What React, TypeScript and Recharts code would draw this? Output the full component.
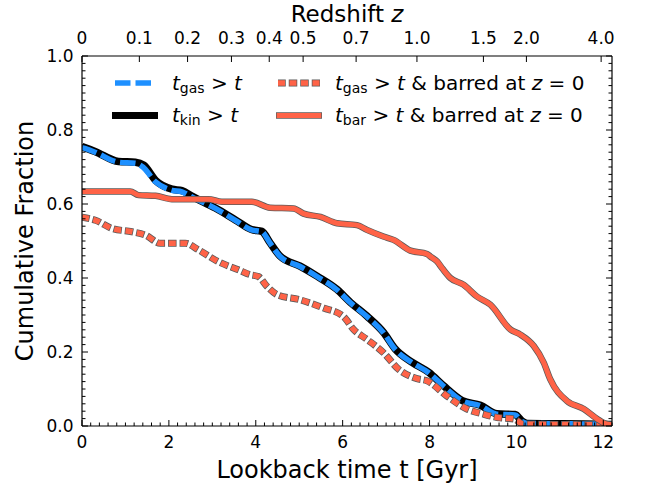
import React from "react";
import { LineChart, Line, XAxis, YAxis, Legend } from "recharts";

// lookback time [Gyr] and cumulative fraction
const gasTime = [0, 0.3, 0.84, 1.23, 1.4, 1.69, 2.07, 2.3, 2.53, 3.07, 3.53, 3.9, 4.14, 4.33, 4.56, 5.02, 5.41, 5.87, 6.18, 6.56, 6.94, 7.21, 7.6, 7.98, 8.32, 8.75, 9.17, 9.55, 9.97, 10.13, 10.25, 11.9, 12.2];
const gasFrac = [0.753, 0.74, 0.713, 0.71, 0.7, 0.66, 0.637, 0.633, 0.619, 0.588, 0.556, 0.53, 0.525, 0.494, 0.458, 0.431, 0.404, 0.368, 0.333, 0.296, 0.252, 0.207, 0.171, 0.144, 0.108, 0.068, 0.055, 0.032, 0.03, 0.012, 0.007, 0.005, 0.004];

const kinTime = [0, 0.3, 0.84, 1.23, 1.42, 1.7, 2.07, 2.3, 2.55, 3.07, 3.53, 3.9, 4.14, 4.33, 4.56, 5.02, 5.41, 5.87, 6.18, 6.56, 6.94, 7.21, 7.6, 7.98, 8.32, 8.75, 9.17, 9.55, 9.97, 10.13, 10.25, 11.9, 12.2];
const kinFrac = [0.755, 0.742, 0.715, 0.713, 0.705, 0.663, 0.64, 0.636, 0.62, 0.589, 0.557, 0.531, 0.526, 0.495, 0.459, 0.432, 0.405, 0.369, 0.334, 0.297, 0.253, 0.208, 0.172, 0.145, 0.109, 0.069, 0.056, 0.033, 0.031, 0.013, 0.007, 0.005, 0.004];

const barGasTime = [0, 0.31, 0.69, 1.15, 1.46, 1.8, 2.38, 2.68, 3.14, 3.6, 3.87, 4.06, 4.26, 4.49, 5.02, 5.56, 6.02, 6.25, 6.56, 6.94, 7.29, 7.71, 7.94, 8.4, 8.86, 9.24, 9.55, 9.94, 10.16, 11.9, 12.2];
const barGasFrac = [0.564, 0.556, 0.534, 0.525, 0.516, 0.494, 0.494, 0.476, 0.444, 0.422, 0.409, 0.404, 0.377, 0.355, 0.341, 0.319, 0.296, 0.261, 0.234, 0.198, 0.153, 0.128, 0.122, 0.081, 0.046, 0.032, 0.023, 0.019, 0.005, 0.003, 0.002];

const barTime = [0, 1.11, 1.3, 1.69, 2.07, 2.91, 3.22, 3.91, 4.33, 4.87, 5.1, 5.49, 5.87, 6.33, 6.56, 6.94, 7.17, 7.56, 7.94, 8.02, 8.17, 8.3, 8.48, 8.78, 9.09, 9.4, 9.86, 10.09, 10.4, 10.63, 10.78, 11.16, 11.55, 11.86, 12.01, 12.2];
const barFrac = [0.634, 0.634, 0.624, 0.622, 0.613, 0.613, 0.606, 0.606, 0.59, 0.588, 0.574, 0.565, 0.548, 0.543, 0.53, 0.512, 0.503, 0.474, 0.465, 0.458, 0.445, 0.425, 0.4, 0.382, 0.35, 0.328, 0.261, 0.247, 0.216, 0.171, 0.126, 0.068, 0.046, 0.019, 0.008, 0.003];

// top axis: redshift labels at their lookback times
const zTickTimes = [0, 1.32, 2.43, 3.44, 4.31, 5.09, 6.31, 7.71, 9.24, 10.23, 11.95];
const zTickLabels = ["0", "0.1", "0.2", "0.3", "0.4", "0.5", "0.7", "1.0", "1.5", "2.0", "4.0"];

const tMajor = [0, 2, 4, 6, 8, 10, 12];
const fMajor = [0, 0.2, 0.4, 0.6, 0.8, 1.0];

const tTicks: number[] = [];
for (let i = 0; i <= 61; i++) tTicks.push(Math.round(i * 2) / 10);
const fTicks: number[] = [];
for (let i = 0; i <= 50; i++) fTicks.push(Math.round(i * 2) / 100);

const zip = (xs: number[], ys: number[]) => xs.map((t, i) => ({ t, f: ys[i] }));
const gasData = zip(gasTime, gasFrac);
const kinData = zip(kinTime, kinFrac);
const barGasData = zip(barGasTime, barGasFrac);
const barData = zip(barTime, barFrac);

const FONT = "DejaVu Sans";
const TICK_FS = 17;
const BLUE = "#1E90FF";
const RED = "#FF6347";
const EDGE = "#5a5a5a";
const MAJOR = 6;
const MINOR = 3.5;

const isMajorT = (v: number) => tMajor.some((m) => Math.abs(m - v) < 1e-6);
const isMajorF = (v: number) => fMajor.some((m) => Math.abs(m - v) < 1e-6);

const BottomTick = (p: any) => {
  const v = p.payload.value;
  const major = isMajorT(v);
  return (
    <g>
      <line x1={p.x} x2={p.x} y1={p.y} y2={p.y - (major ? MAJOR : MINOR)} stroke="#000" strokeWidth={1} />
      {major && (
        <text x={p.x} y={p.y + 22} textAnchor="middle" fontSize={TICK_FS} fontFamily={FONT} fill="#000">
          {String(v)}
        </text>
      )}
    </g>
  );
};

const TopTick = (p: any) => {
  const idx = zTickTimes.findIndex((z) => Math.abs(z - p.payload.value) < 1e-6);
  return (
    <g>
      <line x1={p.x} x2={p.x} y1={p.y} y2={p.y + MAJOR} stroke="#000" strokeWidth={1} />
      <text x={p.x} y={p.y - 12} textAnchor="middle" fontSize={TICK_FS} fontFamily={FONT} fill="#000">
        {zTickLabels[idx]}
      </text>
    </g>
  );
};

const LeftTick = (p: any) => {
  const v = p.payload.value;
  const major = isMajorF(v);
  return (
    <g>
      <line x1={p.x} x2={p.x + (major ? MAJOR : MINOR)} y1={p.y} y2={p.y} stroke="#000" strokeWidth={1} />
      {major && (
        <text x={p.x - 8.5} y={p.y + 6} textAnchor="end" fontSize={TICK_FS} fontFamily={FONT} fill="#000">
          {v.toFixed(1)}
        </text>
      )}
    </g>
  );
};

const RightTick = (p: any) => {
  const major = isMajorF(p.payload.value);
  return <line x1={p.x} x2={p.x - (major ? MAJOR : MINOR)} y1={p.y} y2={p.y} stroke="#000" strokeWidth={1} />;
};

const Sub = ({ s }: { s: string }) => (
  <>
    <tspan fontStyle="italic">t</tspan>
    <tspan fontSize={14} dy={3}>{s}</tspan>
    <tspan dy={-3}>{" > "}</tspan>
    <tspan fontStyle="italic">t</tspan>
  </>
);

const LegendBox = () => (
  <svg width={651} height={140} style={{ display: "block" }}>
    <g fontFamily={FONT} fontSize={20} fill="#000">
      <line x1={115} x2={152} y1={83} y2={83} stroke={BLUE} strokeWidth={5.5} strokeDasharray="15.5 5" />
      <text x={172} y={90}><Sub s="gas" /></text>
      <line x1={112} x2={158} y1={115.5} y2={115.5} stroke="#000" strokeWidth={7} />
      <text x={172} y={122}><Sub s="kin" /></text>

      <line x1={278} x2={320} y1={83} y2={83} stroke={EDGE} strokeWidth={7} strokeDasharray="8.5 3" strokeDashoffset={0.75} />
      <line x1={278} x2={320} y1={83} y2={83} stroke={RED} strokeWidth={5.5} strokeDasharray="7 4.5" />
      <text x={335} y={90}>
        <Sub s="gas" />
        {" & barred at "}
        <tspan fontStyle="italic">z</tspan>
        {" = 0"}
      </text>
      <line x1={276} x2={322} y1={115.5} y2={115.5} stroke={EDGE} strokeWidth={6.5} />
      <line x1={276.7} x2={321.3} y1={115.5} y2={115.5} stroke={RED} strokeWidth={5} />
      <text x={335} y={122}>
        <Sub s="bar" />
        {" & barred at "}
        <tspan fontStyle="italic">z</tspan>
        {" = 0"}
      </text>
    </g>
  </svg>
);

const BottomTitle = (props: any) => {
  const vb = props.viewBox || { x: 82, y: 426, width: 530, height: 60 };
  return (
    <text x={vb.x + vb.width / 2} y={vb.y + 52} textAnchor="middle" fontSize={24} fontFamily={FONT} fill="#000">
      Lookback time t [Gyr]
    </text>
  );
};

const TopTitle = (props: any) => {
  const vb = props.viewBox || { x: 82, y: 0, width: 530, height: 56 };
  return (
    <text x={vb.x + vb.width / 2} y={vb.y + 21.5} textAnchor="middle" fontSize={23} fontFamily={FONT} fill="#000">
      Redshift <tspan fontStyle="italic">z</tspan>
    </text>
  );
};

const LeftTitle = (props: any) => {
  const vb = props.viewBox || { x: 0, y: 56, width: 82, height: 370 };
  const cx = vb.x + 33;
  const cy = vb.y + vb.height / 2;
  return (
    <text x={cx} y={cy} transform={`rotate(-90 ${cx} ${cy})`} textAnchor="middle" fontSize={24} fontFamily={FONT} fill="#000">
      Cumulative Fraction
    </text>
  );
};

export default function App() {
  return (
    <div style={{ position: "absolute", left: 0, top: 0, width: 651, height: 486, background: "#fff" }}>
      <LineChart width={651} height={486} margin={{ top: 0, right: 0, bottom: 0, left: 0 }}>
        <XAxis
          xAxisId="bottom"
          dataKey="t"
          type="number"
          domain={[0, 12.2]}
          allowDataOverflow
          ticks={tTicks}
          interval={0}
          height={60}
          tickSize={0}
          tickMargin={0}
          tickLine={false}
          tick={BottomTick}
          axisLine={{ stroke: "#000", strokeWidth: 1.2 }}
          label={{ content: BottomTitle }}
        />
        <XAxis
          xAxisId="top"
          orientation="top"
          dataKey="t"
          type="number"
          domain={[0, 12.2]}
          allowDataOverflow
          ticks={zTickTimes}
          interval={0}
          height={56}
          tickSize={0}
          tickMargin={0}
          tickLine={false}
          tick={TopTick}
          axisLine={{ stroke: "#000", strokeWidth: 1.2 }}
          label={{ content: TopTitle }}
        />
        <YAxis
          yAxisId="left"
          type="number"
          domain={[0, 1]}
          allowDataOverflow
          ticks={fTicks}
          interval={0}
          width={82}
          tickSize={0}
          tickMargin={0}
          tickLine={false}
          tick={LeftTick}
          axisLine={{ stroke: "#000", strokeWidth: 1.2 }}
          label={{ content: LeftTitle }}
        />
        <YAxis
          yAxisId="right"
          orientation="right"
          type="number"
          domain={[0, 1]}
          allowDataOverflow
          ticks={fTicks}
          interval={0}
          width={39}
          tickSize={0}
          tickMargin={0}
          tickLine={false}
          tick={RightTick}
          axisLine={{ stroke: "#000", strokeWidth: 1.2 }}
        />
        <Legend
          layout="horizontal"
          verticalAlign="middle"
          align="center"
          wrapperStyle={{ left: 0, top: 0, width: 651, height: 140 }}
          content={() => <LegendBox />}
        />
        <Line data={kinData} xAxisId="bottom" yAxisId="left" dataKey="f" type="monotone" stroke="#000" strokeWidth={7.5} dot={false} activeDot={false} isAnimationActive={false} strokeLinejoin="round" />
        <Line data={gasData} xAxisId="bottom" yAxisId="left" dataKey="f" type="monotone" stroke={BLUE} strokeWidth={5.5} strokeDasharray="15.5 5" dot={false} activeDot={false} isAnimationActive={false} strokeLinejoin="round" />
        <Line data={barGasData} xAxisId="bottom" yAxisId="left" dataKey="f" type="monotone" stroke={EDGE} strokeWidth={7} strokeDasharray="8.5 3" strokeDashoffset={0.75} dot={false} activeDot={false} isAnimationActive={false} strokeLinejoin="round" />
        <Line data={barGasData} xAxisId="bottom" yAxisId="left" dataKey="f" type="monotone" stroke={RED} strokeWidth={5.5} strokeDasharray="7 4.5" dot={false} activeDot={false} isAnimationActive={false} strokeLinejoin="round" />
        <Line data={barData} xAxisId="bottom" yAxisId="left" dataKey="f" type="monotone" stroke={EDGE} strokeWidth={6.5} dot={false} activeDot={false} isAnimationActive={false} strokeLinejoin="round" />
        <Line data={barData} xAxisId="bottom" yAxisId="left" dataKey="f" type="monotone" stroke={RED} strokeWidth={5} dot={false} activeDot={false} isAnimationActive={false} strokeLinejoin="round" />
      </LineChart>
    </div>
  );
}
